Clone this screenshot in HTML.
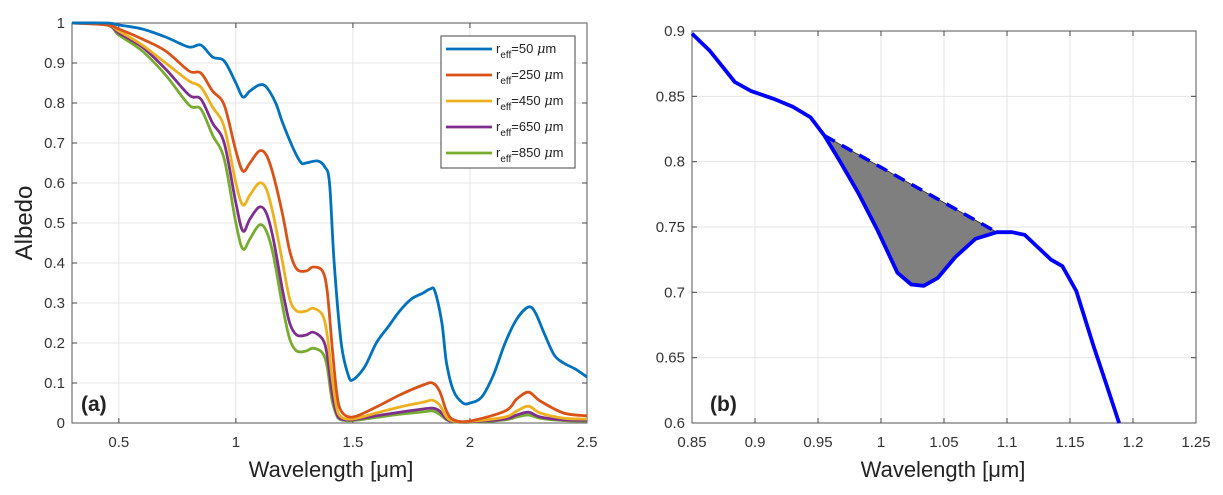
<!DOCTYPE html>
<html><head><meta charset="utf-8">
<style>
html,body{margin:0;padding:0;background:#fff;}
svg{display:block;font-family:"Liberation Sans",Arial,sans-serif;}
</style></head>
<body>
<svg id="chart" width="1223" height="495" viewBox="0 0 1223 495" xmlns="http://www.w3.org/2000/svg">
<g id="pa"></g>
<g id="pb"></g>
</svg>
<script>
// ---- Panel (a) data ----
const aXTicks = [0.5, 1, 1.5, 2, 2.5];
const aXTickLabels = ["0.5", "1", "1.5", "2", "2.5"];
const aYTicks = [0, 0.1, 0.2, 0.3, 0.4, 0.5, 0.6, 0.7, 0.8, 0.9, 1];
const aYTickLabels = ["0", "0.1", "0.2", "0.3", "0.4", "0.5", "0.6", "0.7", "0.8", "0.9", "1"];
const seriesNames = ["50", "250", "450", "650", "850"];
const wlBlue = [0.3,0.45,0.5,0.6,0.7,0.8,0.85,0.9,0.95,1.0,1.03,1.06,1.1,1.13,1.17,1.2,1.25,1.28,1.3,1.35,1.38,1.4,1.42,1.45,1.48,1.5,1.55,1.6,1.65,1.7,1.75,1.8,1.83,1.85,1.88,1.9,1.93,1.97,2.0,2.05,2.1,2.15,2.2,2.25,2.28,2.32,2.36,2.4,2.45,2.5];
const albBlue = [1,1,0.995,0.985,0.965,0.94,0.945,0.915,0.905,0.85,0.815,0.83,0.845,0.84,0.8,0.75,0.68,0.65,0.65,0.655,0.64,0.6,0.4,0.2,0.12,0.108,0.14,0.2,0.24,0.28,0.31,0.325,0.335,0.33,0.25,0.15,0.08,0.05,0.05,0.065,0.12,0.2,0.26,0.29,0.275,0.22,0.17,0.15,0.135,0.115];
const wlOther = [0.3,0.45,0.5,0.6,0.7,0.8,0.85,0.9,0.95,1.0,1.03,1.06,1.1,1.13,1.16,1.2,1.23,1.26,1.3,1.33,1.37,1.39,1.41,1.43,1.45,1.5,1.6,1.7,1.8,1.84,1.87,1.9,1.93,2.0,2.15,2.2,2.25,2.3,2.4,2.5];
const albOrange = [1,0.995,0.985,0.96,0.93,0.88,0.875,0.83,0.795,0.68,0.63,0.65,0.68,0.67,0.62,0.52,0.43,0.385,0.38,0.39,0.38,0.33,0.2,0.08,0.03,0.015,0.04,0.07,0.095,0.1,0.08,0.03,0.008,0.005,0.03,0.06,0.077,0.055,0.025,0.018];
const albYellow = [1,0.995,0.98,0.945,0.9,0.855,0.84,0.79,0.74,0.6,0.545,0.57,0.6,0.585,0.52,0.4,0.31,0.28,0.28,0.287,0.27,0.22,0.12,0.04,0.015,0.01,0.025,0.04,0.052,0.057,0.045,0.015,0.005,0.004,0.015,0.03,0.042,0.025,0.012,0.01];
const albPurple = [1,0.995,0.975,0.94,0.885,0.82,0.81,0.75,0.7,0.55,0.48,0.51,0.54,0.525,0.46,0.33,0.25,0.22,0.22,0.227,0.21,0.17,0.08,0.025,0.01,0.008,0.018,0.027,0.035,0.037,0.03,0.01,0.004,0.003,0.01,0.02,0.027,0.015,0.008,0.007];
const albGreen = [1,0.995,0.97,0.93,0.87,0.795,0.785,0.72,0.66,0.5,0.435,0.46,0.495,0.48,0.42,0.29,0.21,0.18,0.18,0.187,0.175,0.14,0.06,0.02,0.008,0.006,0.014,0.022,0.028,0.03,0.022,0.008,0.003,0.002,0.008,0.015,0.02,0.012,0.006,0.005];

// ---- Panel (b) data ----
const bXTicks = [0.85,0.9,0.95,1,1.05,1.1,1.15,1.2,1.25];
const bXTickLabels = ["0.85","0.9","0.95","1","1.05","1.1","1.15","1.2","1.25"];
const bYTicks = [0.6,0.65,0.7,0.75,0.8,0.85,0.9];
const bYTickLabels = ["0.6","0.65","0.7","0.75","0.8","0.85","0.9"];
const bWl = [0.85,0.864,0.884,0.897,0.915,0.93,0.944,0.955,0.967,0.982,0.997,1.013,1.024,1.034,1.045,1.059,1.075,1.092,1.104,1.114,1.124,1.135,1.144,1.155,1.169,1.178,1.189];
const bAlb = [0.898,0.885,0.861,0.854,0.848,0.842,0.834,0.82,0.801,0.776,0.748,0.715,0.706,0.705,0.711,0.727,0.741,0.746,0.746,0.744,0.735,0.725,0.72,0.701,0.658,0.632,0.6];
const bandStart = 0.955;
const bandEnd = 1.092;

const NS = "http://www.w3.org/2000/svg";
function mk(parent, tag, attrs, text){
  const e = document.createElementNS(NS, tag);
  for (const k in attrs) e.setAttribute(k, attrs[k]);
  if (text !== undefined) e.textContent = text;
  parent.appendChild(e);
  return e;
}
function interp(xs, ys, x){
  for (let i=0;i<xs.length-1;i++){
    if (x>=xs[i] && x<=xs[i+1]){const t=(x-xs[i])/(xs[i+1]-xs[i]);return ys[i]+t*(ys[i+1]-ys[i]);}
  }
  return ys[ys.length-1];
}
function smoothPath(P){
  let d = "M"+P[0][0].toFixed(1)+","+P[0][1].toFixed(1);
  for (let i=0;i<P.length-1;i++){
    const p0=P[Math.max(0,i-1)], p1=P[i], p2=P[i+1], p3=P[Math.min(P.length-1,i+2)];
    const c1x=p1[0]+(p2[0]-p0[0])/6, c1y=p1[1]+(p2[1]-p0[1])/6;
    const c2x=p2[0]-(p3[0]-p1[0])/6, c2y=p2[1]-(p3[1]-p1[1])/6;
    d += " C"+c1x.toFixed(1)+","+c1y.toFixed(1)+" "+c2x.toFixed(1)+","+c2y.toFixed(1)+" "+p2[0].toFixed(1)+","+p2[1].toFixed(1);
  }
  return d;
}

function axesFrame(g, L, R, T, B, sx, sy, xt, xtl, yt, ytl){
  for (let i=0;i<xt.length;i++){
    const x = sx(xt[i]);
    const gl = mk(g,"line",{x1:x,x2:x,y1:T,y2:B,stroke:"#e5e5e5","stroke-width":1});
    
    
    mk(g,"line",{x1:x,x2:x,y1:B,y2:B-5,stroke:"#444","stroke-width":1});
    mk(g,"line",{x1:x,x2:x,y1:T,y2:T+5,stroke:"#444","stroke-width":1});
    const t = mk(g,"text",{x:x,y:B+24,"text-anchor":"middle","font-size":15,fill:"#333"},xtl[i]);
    
    
  }
  for (let i=0;i<yt.length;i++){
    const y = sy(yt[i]);
    const gl = mk(g,"line",{x1:L,x2:R,y1:y,y2:y,stroke:"#e5e5e5","stroke-width":1});
    
    
    mk(g,"line",{x1:L,x2:L+5,y1:y,y2:y,stroke:"#444","stroke-width":1});
    mk(g,"line",{x1:R,x2:R-5,y1:y,y2:y,stroke:"#444","stroke-width":1});
    const t = mk(g,"text",{x:L-7,y:y+5,"text-anchor":"end","font-size":15,fill:"#333"},ytl[i]);
    
    
  }
  const box = mk(g,"rect",{x:L,y:T,width:R-L,height:B-T,fill:"none",stroke:"#555","stroke-width":1});
  
  
}

// ---- Panel (a) ----
(function(){
  const g = document.getElementById("pa");
  const L=72, R=587, T=23, B=423;
  const sx = v => L + (v-0.3)/(2.5-0.3)*(R-L);
  const sy = v => B - v*(B-T);
  axesFrame(g,L,R,T,B,sx,sy,aXTicks,aXTickLabels,aYTicks,aYTickLabels);
  const sets = [[wlBlue,albBlue,"#0072BD"],[wlOther,albOrange,"#D95319"],[wlOther,albYellow,"#EDB120"],[wlOther,albPurple,"#7E2F8E"],[wlOther,albGreen,"#77AC30"]];
  for (let s=sets.length-1;s>=0;s--){
    const [xs,ys,c] = sets[s];
    const P = xs.map((x,i)=>[sx(x), sy(ys[i])]);
    const pl = mk(g,"path",{d:smoothPath(P),fill:"none",stroke:c,"stroke-width":2.8,"stroke-linejoin":"round"});
    
    
  }
  // legend
  const lg = mk(g,"g",{});
  
  
  mk(lg,"rect",{x:441,y:36,width:134,height:132,fill:"#fff",stroke:"#444","stroke-width":1});
  for (let s=0;s<sets.length;s++){
    const y = 49 + s*26;
    const e = mk(lg,"g",{});
    
    
    mk(e,"line",{x1:446,x2:492,y1:y,y2:y,stroke:sets[s][2],"stroke-width":2.8});
    const t = mk(e,"text",{x:496,y:y+4,"font-size":13,fill:"#222"});
    mk(t,"tspan",{},"r");
    mk(t,"tspan",{dy:5,"font-size":10},"eff");
    mk(t,"tspan",{dy:-5},"="+seriesNames[s]+" ");
    mk(t,"tspan",{"font-style":"italic","font-family":"DejaVu Serif, serif"},"μ");
    mk(t,"tspan",{},"m");
  }
  const lab = mk(g,"text",{x:81,y:411,"font-size":21,"font-weight":"bold",fill:"#222"},"(a)");
  
  
  const yl = mk(g,"text",{x:32,y:223,"font-size":24,"text-anchor":"middle",fill:"#222",transform:"rotate(-90 32 223)"},"Albedo");
  
  
  const xl = mk(g,"text",{x:331,y:477,"font-size":22,"text-anchor":"middle",fill:"#222"},"Wavelength [μm]");
  
  
})();

// ---- Panel (b) ----
(function(){
  const g = document.getElementById("pb");
  const L=692, R=1196, T=31, B=423;
  const sx = v => L + (v-0.85)/(1.25-0.85)*(R-L);
  const sy = v => B - (v-0.6)/(0.9-0.6)*(B-T);
  axesFrame(g,L,R,T,B,sx,sy,bXTicks,bXTickLabels,bYTicks,bYTickLabels);
  const y0 = interp(bWl,bAlb,bandStart), y1 = interp(bWl,bAlb,bandEnd);
  let fp = [sx(bandStart)+","+sy(y0)];
  for (let i=0;i<bWl.length;i++) if (bWl[i]>bandStart && bWl[i]<bandEnd) fp.push(sx(bWl[i])+","+sy(bAlb[i]));
  fp.push(sx(bandEnd)+","+sy(y1));
  const area = mk(g,"polygon",{points:fp.join(" "),fill:"#7f7f7f",stroke:"#222","stroke-width":0.8});
  
  
  const ch = mk(g,"line",{x1:sx(bandStart),y1:sy(y0),x2:sx(bandEnd),y2:sy(y1),stroke:"#0000ff","stroke-width":3.5,"stroke-dasharray":"12,8"});
  
  
  const pts = bWl.map((x,i)=>sx(x).toFixed(1)+","+sy(bAlb[i]).toFixed(1)).join(" ");
  const pl = mk(g,"polyline",{points:pts,fill:"none",stroke:"#0000ff","stroke-width":3.8,"stroke-linejoin":"round"});
  
  
  const lab = mk(g,"text",{x:710,y:411,"font-size":21,"font-weight":"bold",fill:"#222"},"(b)");
  
  
  const xl = mk(g,"text",{x:943,y:477,"font-size":22,"text-anchor":"middle",fill:"#222"},"Wavelength [μm]");
  
  
})();
</script>
</body></html>
